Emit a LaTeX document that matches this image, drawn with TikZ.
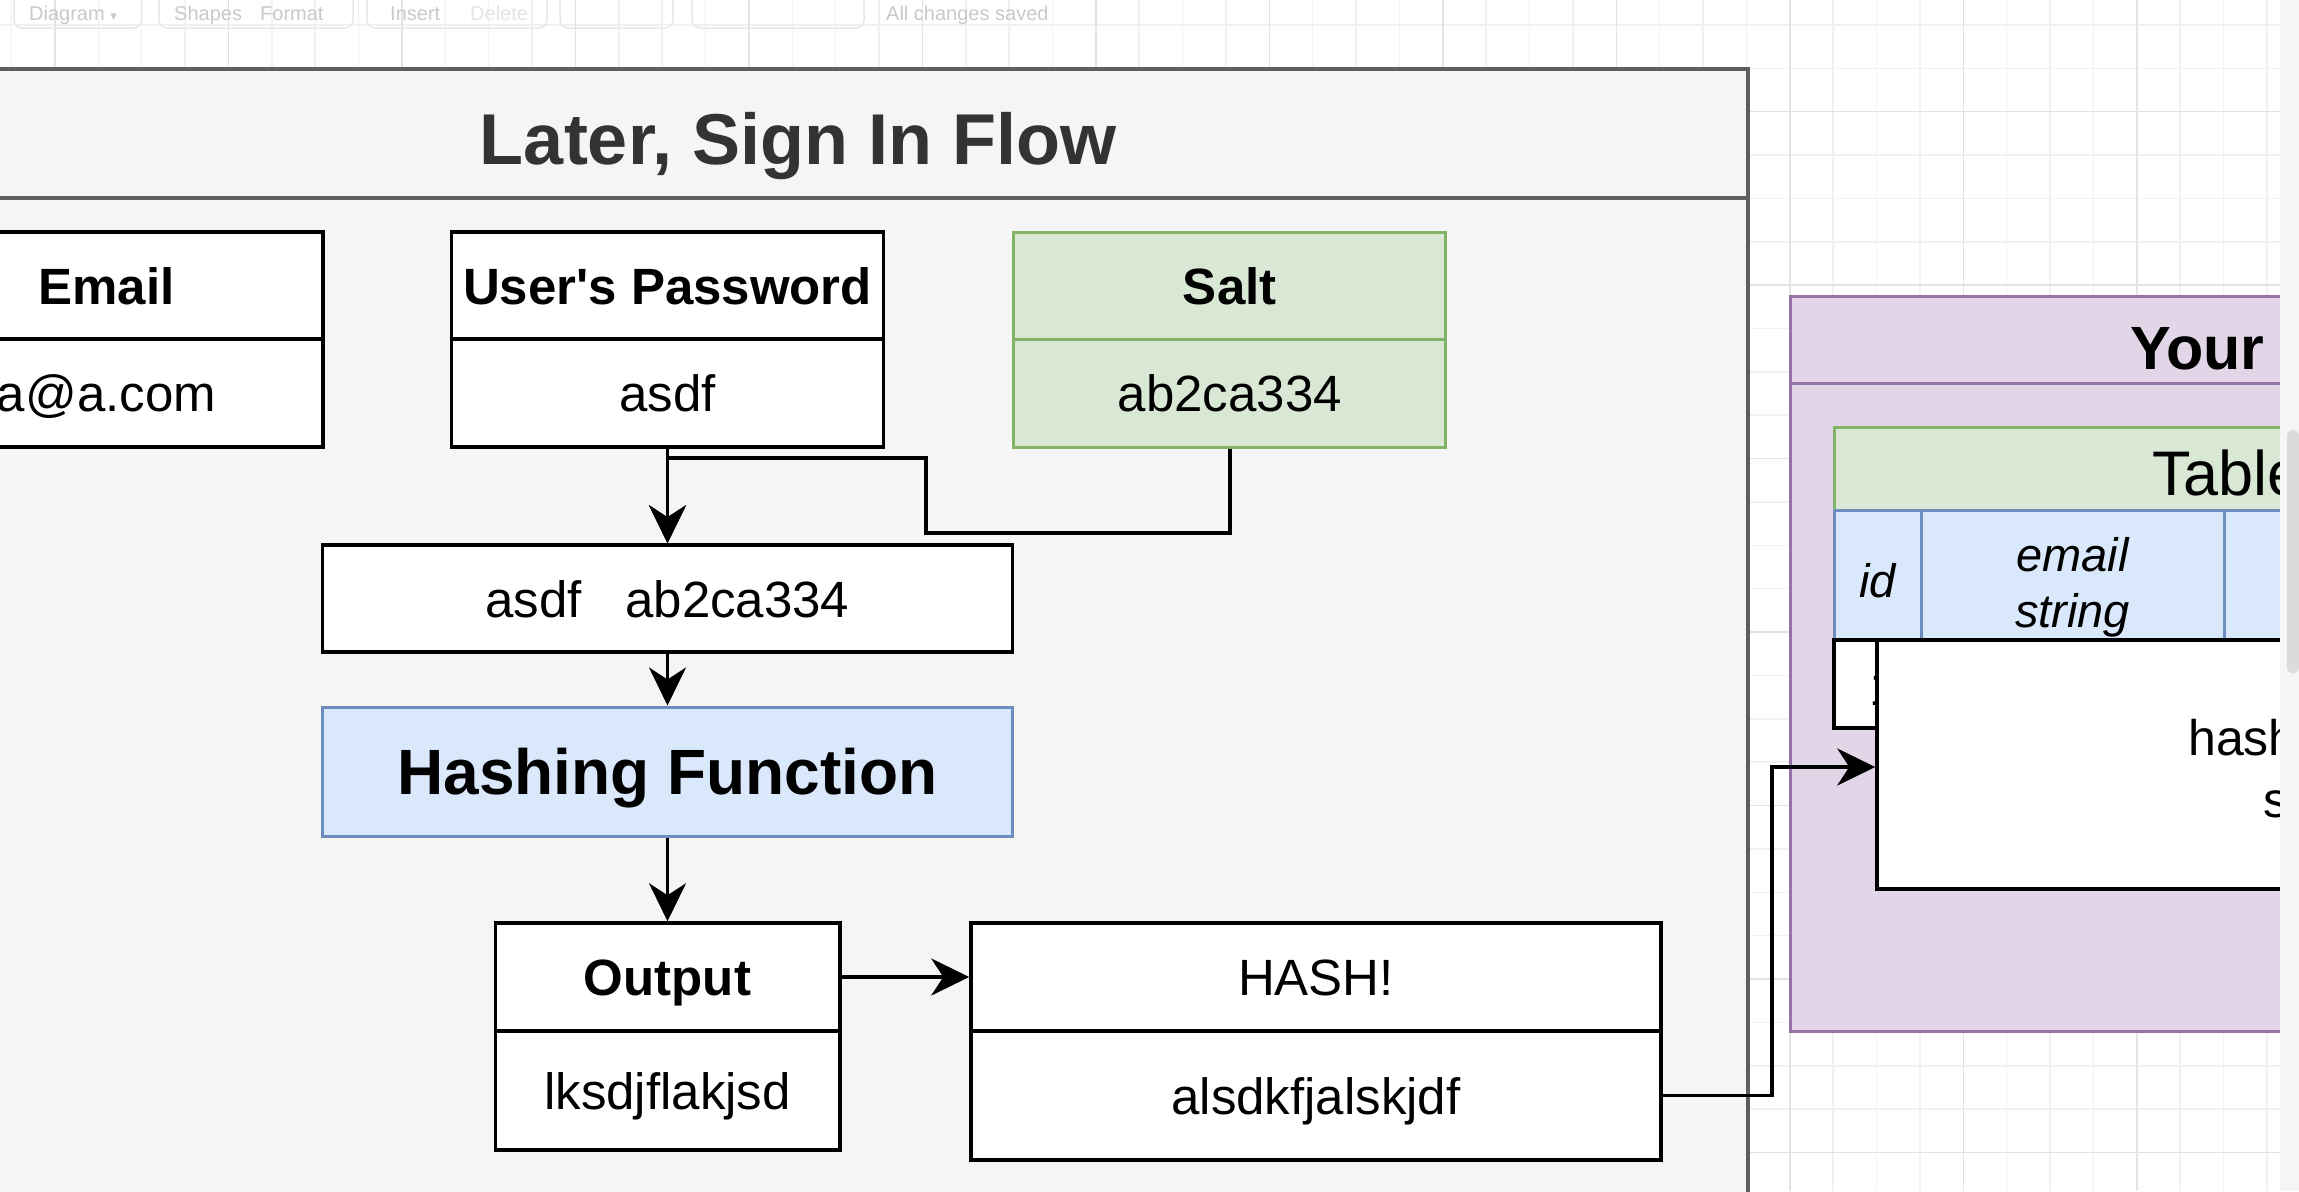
\documentclass[tikz,border=0pt]{standalone}
\usepackage{fontspec}
\setmainfont{Liberation Sans}
\newfontfamily\plainfont{Liberation Sans}
\newfontfamily\symfont{DejaVu Sans}
\usetikzlibrary{arrows.meta}
\definecolor{contfill}{HTML}{F5F5F5}
\definecolor{contline}{HTML}{5F5F5F}
\definecolor{titlecol}{HTML}{333333}
\definecolor{greenfill}{HTML}{D8E8D5}
\definecolor{greenline}{HTML}{82B366}
\definecolor{bluefill}{HTML}{DAE8FC}
\definecolor{blueline}{HTML}{6C8EBF}
\definecolor{purplefill}{HTML}{E1D5E7}
\definecolor{purpleline}{HTML}{9673A6}
\definecolor{gridminor}{HTML}{F1F1F1}
\definecolor{gridmajor}{HTML}{E3E3E3}
\definecolor{chrome}{HTML}{C9C9C9}
\newcommand\bodysize{\fontsize{51}{61}\selectfont}
\begin{document}
\begin{tikzpicture}[x=1pt,y=-1pt,
  cellbox/.style={draw=black, line width=3.5pt, fill=white, inner sep=0pt,
    font=\bodysize, text height=37pt, text depth=0pt},
  boldcell/.style={cellbox, font=\bodysize\bfseries},
  greencell/.style={cellbox, draw=greenline, fill=greenfill, line width=3pt},
  bluecell/.style={draw=blueline, fill=bluefill, line width=3pt, inner sep=0pt},
  coltext/.style={anchor=base, font=\fontsize{47}{56}\selectfont\itshape, inner sep=0pt},
  conn/.style={draw=black, line width=3.5pt},
  arr/.style={conn, -{Stealth[length=38pt,width=37pt,inset=12pt]}},
  chromebtn/.style={draw=chrome!45, line width=1.5pt, rounded corners=8pt},
  chrometext/.style={text=chrome, font=\fontsize{20}{24}\selectfont, anchor=base west, inner sep=0pt}
]
\useasboundingbox (0,0) rectangle (2299,1191);
\clip (0,0) rectangle (2299,1191);
\fill[white] (0,0) rectangle (2299,1191);
% grid
\foreach \i in {0,...,53} \draw[gridminor, line width=1.5pt] ({11.6+43.37*\i},0) -- ++(0,1191);
\foreach \i in {0,...,27} \draw[gridminor, line width=1.5pt] (0,{24.9+43.37*\i}) -- ++(2299,0);
\foreach \i in {0,...,13} \draw[gridmajor, line width=1.5pt] ({54.8+173.5*\i},0) -- ++(0,1191);
\foreach \i in {0,...,6} \draw[gridmajor, line width=1.5pt] (0,{111.6+173.5*\i}) -- ++(2299,0);

% toolbar remnants
\draw[chromebtn] (14,-20) rectangle (141.5,28);
\draw[chromebtn] (159,-20) rectangle (353,28);
\draw[chromebtn] (367,-20) rectangle (547,28);
\draw[chromebtn] (560,-20) rectangle (673,28);
\draw[chromebtn] (692,-20) rectangle (864,28);
\node[chrometext] (tbdiag) at (29,20) {Diagram {\symfont\fontsize{13}{15}\selectfont ▾}};
\node[chrometext] (tbshapes) at (174,20) {Shapes};
\node[chrometext] (tbformat) at (260,20) {Format};
\node[chrometext] (tbinsert) at (390,20) {Insert};
\node[chrometext, text=chrome!50] (tbdelete) at (470,20) {Delete};
\node[chrometext] (tbsaved) at (886,20) {All changes saved};

% main container
\node[draw=contline, fill=contfill, line width=3.5pt, minimum width=1778pt, minimum height=1181pt, inner sep=0pt] (main) at (859,659.5) {};
\draw[contline, line width=3.5pt] (-30,198) -- (1748,198);
\node[anchor=base, text=titlecol, font=\fontsize{72}{86}\selectfont\bfseries, inner sep=0pt] (title) at (798,164) {Later, Sign In Flow};

% top boxes
\node[boldcell, minimum width=433pt, minimum height=108pt] (emh) at (106.5,286) {Email};
\node[cellbox, minimum width=433pt, minimum height=108pt] (emb) at (106.5,393) {a@a.com};
\node[boldcell, font=\bodysize\plainfont\bfseries, minimum width=432pt, minimum height=108pt] (pwh) at (667.5,286) {User's Password};
\node[cellbox, minimum width=432pt, minimum height=108pt] (pwb) at (667.5,393) {asdf};
\node[greencell, font=\bodysize\bfseries, minimum width=432pt, minimum height=108pt] (salth) at (1229.75,286) {Salt};
\node[greencell, minimum width=432pt, minimum height=108pt] (saltb) at (1229.75,393) {ab2ca334};

% combined and hashing
\node[cellbox, minimum width=690pt, minimum height=107pt] (combo) at (667.5,598.5) {asdf\hspace{0.85em}ab2ca334};
\node[bluecell, font=\fontsize{64}{77}\selectfont\bfseries, text height=46pt, text depth=0pt, minimum width=690pt, minimum height=129pt] (hashfn) at (667.5,771.5) {Hashing Function};

% output boxes
\node[boldcell, minimum width=344.5pt, minimum height=108pt] (outh) at (667.5,977) {Output};
\node[cellbox, minimum width=344.5pt, minimum height=119pt] (outb) at (667.5,1090.5) {lksdjflakjsd};
\node[cellbox, minimum width=690pt, minimum height=108pt] (hashh) at (1316,977) {HASH!};
\node[cellbox, minimum width=690pt, minimum height=129pt] (hashb) at (1316,1095.5) {alsdkfjalskjdf};

% database container
\node[draw=purpleline, fill=purplefill, line width=3pt, minimum width=610pt, minimum height=735pt, inner sep=0pt] (db) at (2095,663.5) {};
\draw[purpleline, line width=3pt] (1790,383) -- (2400,383);
\node[anchor=base west, font=\fontsize{61}{73}\selectfont\bfseries, inner sep=0pt] (dbtitle) at (2130,369) {Your};

\node[draw=greenline, fill=greenfill, line width=3pt, minimum width=566pt, minimum height=83pt, inner sep=0pt] (tblh) at (2117,468.5) {};
\node[anchor=base west, font=\fontsize{63}{75}\selectfont, inner sep=0pt] (tbltitle) at (2152,495) {Table};
\node[bluecell, minimum width=87pt, minimum height=130pt] (colid) at (1877.5,575) {};
\node[bluecell, minimum width=303pt, minimum height=130pt] (colemail) at (2072.5,575) {};
\node[bluecell, minimum width=176pt, minimum height=130pt] (colpw) at (2312,575) {};
\node[coltext] (colidtext) at (1877.5,597) {id};
\node[coltext] (colemailtext1) at (2072.5,571) {email};
\node[coltext] (colemailtext2) at (2072.5,627) {string};

\node[draw=black, fill=white, line width=3.5pt, minimum width=43pt, minimum height=88pt, inner sep=0pt] (idcell) at (1855.5,684) {};
\node[font=\fontsize{50}{60}\selectfont, inner sep=0pt] (idval) at (1883.5,688) {1};
\node[draw=black, fill=white, line width=3.5pt, minimum width=523pt, minimum height=249pt, inner sep=0pt] (wbox) at (2138.5,764.5) {};
\node[anchor=base west, font=\fontsize{50}{60}\selectfont, inner sep=0pt] (wtext1) at (2188,755) {hash};
\node[anchor=base west, font=\fontsize{50}{60}\selectfont, inner sep=0pt] (wtext2) at (2263,817) {s};

% connectors
\coordinate (j1) at (926,533);
\coordinate (j2) at (926,458);
\coordinate (wbin) at ([yshift=-2.5pt]wbox.west);
\draw[arr] (pwb.south) -- (combo.north);
\draw[arr] (saltb.south) |- (j1) -- (j2) -| (combo.north);
\draw[arr] (combo.south) -- (hashfn.north);
\draw[arr] (hashfn.south) -- (outh.north);
\draw[arr] (outh.east) -- (hashh.west);
\draw[arr] (hashb.east) -- ++(109,0) |- (wbin);

% scrollbar strip
\fill[white!96!black] (2280,0) rectangle (2299,1191);
\fill[white!86!black, rounded corners=5pt] (2287,430) rectangle (2299,673);
\end{tikzpicture}
\end{document}
